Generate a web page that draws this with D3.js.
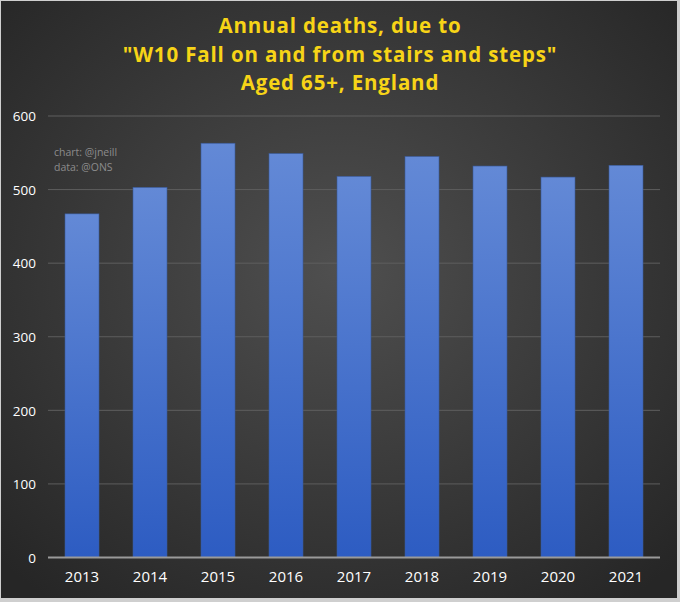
<!DOCTYPE html>
<html><head><meta charset="utf-8">
<script src="https://cdn.jsdelivr.net/npm/d3@7"></script>
<style>html,body{margin:0;padding:0;background:#cfcfcf;}svg{display:block;}</style>
</head><body>
<script>
const years = ["2013","2014","2015","2016","2017","2018","2019","2020","2021"];
const deaths = [467, 503, 563, 549, 518, 545, 532, 517, 533];
const yTicks = [0, 100, 200, 300, 400, 500, 600];
const titleLines = ["Annual deaths, due to", "\"W10 Fall on and from stairs and steps\"", "Aged 65+, England"];
const credits = ["chart: @jneill", "data: @ONS"];

const W = 680, H = 602;
const svg = d3.select("body").append("svg").attr("width", W).attr("height", H);
const defs = svg.append("defs");
const bg = defs.append("radialGradient").attr("id","bg").attr("cx","50%").attr("cy","45%").attr("r","70%");
bg.append("stop").attr("offset","0%").attr("stop-color","#4f4f4f");
bg.append("stop").attr("offset","100%").attr("stop-color","#262626");
const bar = defs.append("linearGradient").attr("id","bar").attr("x1",0).attr("y1",0).attr("x2",0).attr("y2",1);
bar.append("stop").attr("offset","0%").attr("stop-color","#6389d6");
bar.append("stop").attr("offset","100%").attr("stop-color","#2d5cc2");

svg.append("rect").attr("width",W).attr("height",H).attr("fill","#cfcfcf");
svg.append("rect").attr("x",1).attr("y",1).attr("width",676).attr("height",597).attr("fill","url(#bg)");

const x = d3.scaleBand().domain(years).range([48, 660]).paddingInner(0.5).paddingOuter(0.25);
const y = d3.scaleLinear().domain([0, 600]).range([557.5, 116]);

// gridlines
svg.append("g").selectAll("line").data(yTicks.filter(d => d > 0)).join("line")
  .attr("x1", 48).attr("x2", 660).attr("y1", d => y(d)).attr("y2", d => y(d))
  .attr("stroke", "#5e5e5e").attr("stroke-width", 1);

// y axis
const yAxis = svg.append("g").attr("transform","translate(36,0)")
  .call(d3.axisLeft(y).tickValues(yTicks).tickSize(0).tickPadding(0));
yAxis.select(".domain").remove();
yAxis.selectAll("text").attr("fill","#ffffff").attr("font-family","'Open Sans', sans-serif")
  .attr("font-size",13.5).attr("dy","0.35em");

// bars
svg.append("g").selectAll("rect").data(deaths).join("rect")
  .attr("x", (d,i) => x(years[i])).attr("width", x.bandwidth())
  .attr("y", d => y(d)).attr("height", d => y(0) - y(d))
  .attr("fill","url(#bar)").attr("stroke","#3a5a9a").attr("stroke-width",0.6);

// zero line
svg.append("line").attr("x1",48).attr("x2",660).attr("y1",y(0)).attr("y2",y(0))
  .attr("stroke","#9a9a9a").attr("stroke-width",2);

// x axis
const xAxis = svg.append("g").attr("transform",`translate(0,${y(0)})`)
  .call(d3.axisBottom(x).tickSize(0).tickPadding(14));
xAxis.select(".domain").remove();
xAxis.selectAll("text").attr("fill","#ffffff").attr("font-family","'Open Sans', sans-serif")
  .attr("font-size",15).attr("dy","0.71em");

// credits
svg.append("g").selectAll("text").data(credits).join("text")
  .attr("x", 54).attr("y", (d,i) => 156 + i*15)
  .attr("fill","#8c8c8c").attr("font-family","'Open Sans', sans-serif").attr("font-size",10.5)
  .text(d => d);

// title
svg.append("g").selectAll("text").data(titleLines).join("text")
  .attr("x", W/2).attr("y", (d,i) => 33 + i*28.5).attr("text-anchor","middle")
  .attr("fill","#f7d417").attr("font-family","'Open Sans', sans-serif").attr("font-weight","bold")
  .attr("font-size",20.5).attr("letter-spacing","0.85")
  .text(d => d);
</script>
</body></html>
